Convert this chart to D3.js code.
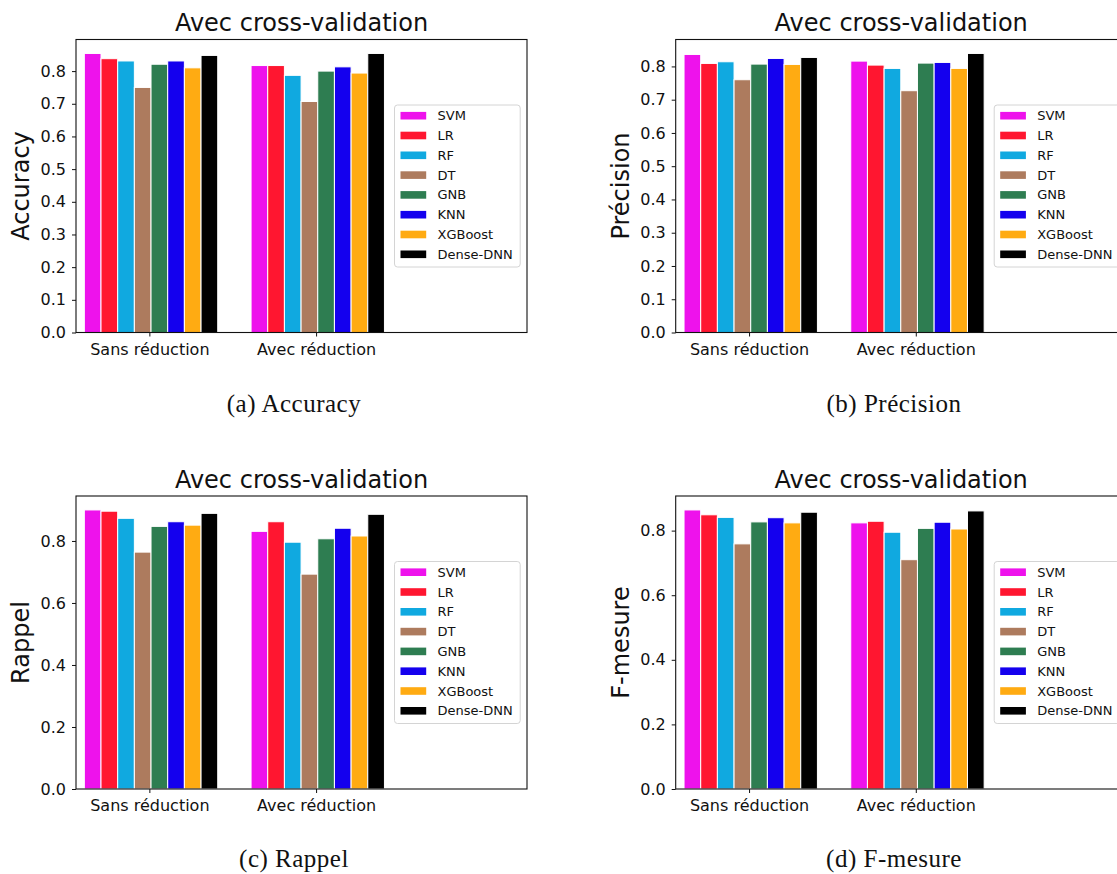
<!DOCTYPE html>
<html>
<head>
<meta charset="utf-8">
<script src="https://cdn.jsdelivr.net/npm/d3@7"></script>
<style>
  body { margin: 0; background: #fff; }
  svg { display: block; font-family: "DejaVu Sans", sans-serif; }
</style>
</head>
<body>
<svg id="fig" width="1117" height="874"></svg>
<script>
// models and their colours
const models = ["SVM", "LR", "RF", "DT", "GNB", "KNN", "XGBoost", "Dense-DNN"];
const colors = ["#ee12ec", "#ff1630", "#10a9e0", "#ad7b5e", "#2e7d51", "#1400ee", "#ffab12", "#000000"];
const groups = ["Sans réduction", "Avec réduction"];

// values, one array per metric and group
const accuracySans = [0.854, 0.838, 0.831, 0.750, 0.821, 0.831, 0.810, 0.848];
const accuracyAvec = [0.817, 0.817, 0.787, 0.707, 0.800, 0.813, 0.794, 0.854];
const precisionSans = [0.836, 0.809, 0.814, 0.760, 0.807, 0.824, 0.806, 0.827];
const precisionAvec = [0.816, 0.804, 0.794, 0.727, 0.810, 0.812, 0.794, 0.839];
const rappelSans = [0.900, 0.896, 0.873, 0.764, 0.847, 0.862, 0.851, 0.889];
const rappelAvec = [0.831, 0.862, 0.796, 0.693, 0.807, 0.841, 0.816, 0.886];
const fmesureSans = [0.864, 0.849, 0.841, 0.759, 0.827, 0.840, 0.824, 0.857];
const fmesureAvec = [0.824, 0.829, 0.795, 0.710, 0.807, 0.826, 0.805, 0.861];

const ticksFine = [0, 0.1, 0.2, 0.3, 0.4, 0.5, 0.6, 0.7, 0.8];
const ticksCoarse = [0, 0.2, 0.4, 0.6, 0.8];

const svg = d3.select("#fig");
svg.append("rect").attr("width", 1117).attr("height", 874).attr("fill", "#fff");

const W = 451, H = 293;
const barW = 0.1;

const panels = [
  { left: 76, top: 39.5, data: [accuracySans, accuracyAvec], ticks: ticksFine, label: "Accuracy", caption: "(a) Accuracy", cx: 294, cy: 412 },
  { left: 675.7, top: 39.5, data: [precisionSans, precisionAvec], ticks: ticksFine, label: "Précision", caption: "(b) Précision", cx: 894, cy: 412 },
  { left: 76, top: 496, data: [rappelSans, rappelAvec], ticks: ticksCoarse, label: "Rappel", caption: "(c) Rappel", cx: 294, cy: 867 },
  { left: 675.7, top: 496, data: [fmesureSans, fmesureAvec], ticks: ticksCoarse, label: "F-mesure", caption: "(d) F-mesure", cx: 894, cy: 867 },
];

panels.forEach((p) => drawPanel(p));

function drawPanel(p) {
  const g = svg.append("g").attr("transform", `translate(${p.left},${p.top})`);

  const x = d3.scaleLinear().domain([-0.44, 2.265]).range([0, W]);
  const ymax = d3.max(p.data.flat()) * 1.05;
  const y = d3.scaleLinear().domain([0, ymax]).range([H, 0]);

  // bars
  p.data.forEach((vals, gi) => {
    g.append("g")
      .selectAll("rect")
      .data(vals)
      .join("rect")
      .attr("x", (d, i) => x(gi + (i - 4) * barW + 0.01))
      .attr("width", x(barW) - x(0))
      .attr("y", (d) => y(d))
      .attr("height", (d) => H - y(d))
      .attr("fill", (d, i) => colors[i])
      .attr("stroke", "#fff")
      .attr("stroke-width", 1);
  });

  // axes
  const yAxis = g.append("g")
    .call(d3.axisLeft(y).tickValues(p.ticks).tickFormat(d3.format(".1f")).tickSize(4).tickPadding(6).tickSizeOuter(0));
  const xAxis = g.append("g")
    .attr("transform", `translate(0,${H})`)
    .call(d3.axisBottom(x).tickValues([0, 1]).tickFormat((d) => groups[d]).tickSize(4).tickPadding(7).tickSizeOuter(0));
  [yAxis, xAxis].forEach((a) => {
    a.select(".domain").remove();
    a.selectAll("text").attr("font-size", 16).attr("font-family", "DejaVu Sans").attr("fill", "#111");
    a.selectAll("line").attr("stroke", "#111");
  });

  // spines
  g.append("rect")
    .attr("width", W).attr("height", H)
    .attr("fill", "none").attr("stroke", "#111").attr("stroke-width", 1.1);

  // title and label
  g.append("text")
    .attr("x", W / 2).attr("y", -8.5)
    .attr("text-anchor", "middle")
    .attr("font-size", 24).attr("fill", "#111")
    .text("Avec cross-validation");
  g.append("text")
    .attr("transform", `translate(-47,${H / 2}) rotate(-90)`)
    .attr("text-anchor", "middle")
    .attr("font-size", 24).attr("fill", "#111")
    .text(p.label);

  // legend, centre right
  const lg = g.append("g").attr("transform", `translate(318.5,${H / 2 - 81})`);
  lg.append("rect")
    .attr("width", 125.7).attr("height", 162).attr("rx", 3)
    .attr("fill", "#fff").attr("fill-opacity", 0.8)
    .attr("stroke", "#d4d4d4").attr("stroke-width", 1);
  const item = lg.selectAll("g.item").data(models).join("g")
    .attr("class", "item")
    .attr("transform", (d, i) => `translate(0,${10.7 + i * 19.8})`);
  item.append("rect")
    .attr("x", 6).attr("y", -3.8).attr("width", 25.7).attr("height", 7.6)
    .attr("fill", (d, i) => colors[i]);
  item.append("text")
    .attr("x", 43).attr("dy", "0.35em")
    .attr("font-size", 13).attr("fill", "#111")
    .text((d) => d);

  // sub-figure caption
  svg.append("text")
    .attr("x", p.cx).attr("y", p.cy)
    .attr("text-anchor", "middle")
    .attr("font-family", "Liberation Serif, serif")
    .attr("font-size", 25).attr("letter-spacing", 0.5).attr("fill", "#111")
    .text(p.caption);
}
</script>
</body>
</html>
